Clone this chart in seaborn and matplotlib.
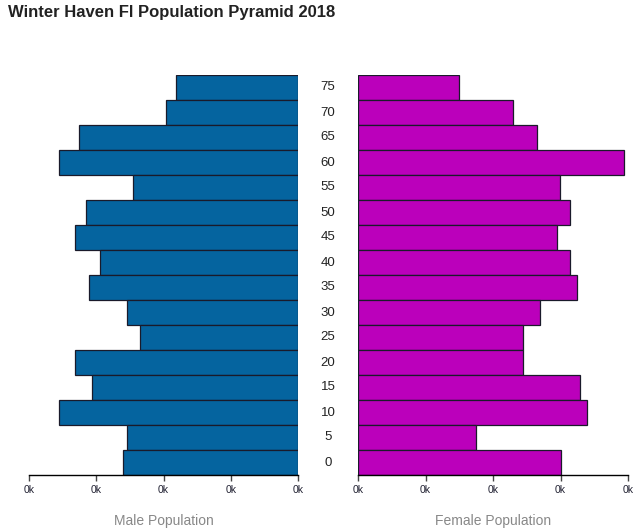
import pandas as pd
import matplotlib
matplotlib.use('Agg')
import matplotlib.pyplot as plt
import matplotlib.transforms as mtransforms
from matplotlib.ticker import FuncFormatter
import seaborn as sns

# Data (ages top to bottom)
ages = ['75', '70', '65', '60', '55', '50', '45', '40', '35', '30', '25', '20', '15', '10', '5', '0']
male = [181, 196, 326, 355, 245, 315, 331, 295, 311, 255, 235, 331, 306, 355, 255, 260]
female = [150, 230, 265, 394, 299, 314, 295, 314, 325, 270, 245, 245, 329, 339, 175, 300]
x_ticks = [0, 100, 200, 300, 400]

df = pd.DataFrame({'Age': ages, 'Male': male, 'Female': female})

sns.set_style('white')
plt.rcParams['font.family'] = ['Liberation Sans', 'DejaVu Sans']

W, H = 638, 531
fig = plt.figure(figsize=(W / 100, H / 100), dpi=100)
ax_m = fig.add_axes([29 / W, (H - 475) / H, 269 / W, 400 / H])
ax_f = fig.add_axes([358 / W, (H - 475) / H, 270 / W, 400 / H])

edge = '#1a1a2a'
sns.barplot(data=df, x='Male', y='Age', order=ages, orient='h', ax=ax_m,
            color='#05649f', saturation=1, width=1.0, edgecolor=edge, linewidth=0.9)
sns.barplot(data=df, x='Female', y='Age', order=ages, orient='h', ax=ax_f,
            color='#bb00bb', saturation=1, width=1.0, edgecolor=edge, linewidth=0.9)

fmt = FuncFormatter(lambda v, p: f'{v / 1000:.0f}k')
for ax in (ax_m, ax_f):
    sns.despine(ax=ax, left=True, top=True, right=True)
    ax.spines['bottom'].set_color('black')
    ax.spines['bottom'].set_linewidth(1)
    ax.set_yticks([])
    ax.set_ylabel('')
    ax.set_xticks(x_ticks)
    ax.xaxis.set_major_formatter(fmt)
    ax.tick_params(axis='x', bottom=True, length=4, width=1, color='#444444',
                   labelsize=7.5, labelcolor='#222233', pad=3)
    ax.set_ylim(len(ages) - 0.5, -0.5)

ax_m.set_xlim(400, 0)
ax_f.set_xlim(0, 400)
ax_m.set_xlabel('Male Population', fontsize=10, color='#888888', labelpad=14)
ax_f.set_xlabel('Female Population', fontsize=10, color='#888888', labelpad=14)

# Age labels between the two halves
trans = mtransforms.blended_transform_factory(fig.transFigure, ax_f.transData)
for i, a in enumerate(ages):
    fig.text(328 / W, i, a, transform=trans, ha='center', va='center',
             fontsize=9.5, color='#222222')

fig.text(8 / W, 1 - 13 / H, 'Winter Haven Fl Population Pyramid 2018',
         fontsize=12, fontweight='bold', color='#222222', ha='left', va='center')

plt.savefig('out.png', dpi=100)
plt.close()
